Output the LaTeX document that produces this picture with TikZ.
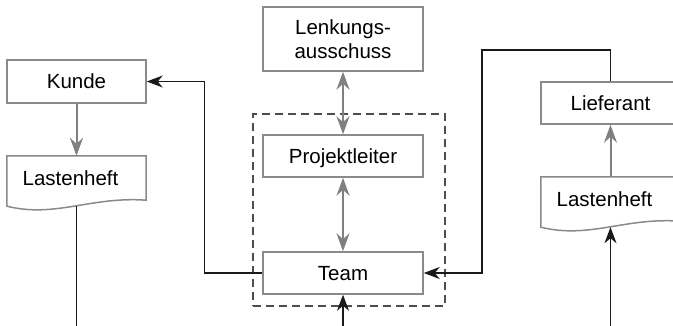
\documentclass[tikz,border=0pt]{standalone}
\usepackage{fontspec}
\setmainfont{Liberation Sans}
\usetikzlibrary{arrows.meta,calc}

\definecolor{boxgray}{HTML}{8A8A8A}
\definecolor{arrowgray}{HTML}{808080}
\definecolor{dashgray}{HTML}{4D4D4D}
\definecolor{linedark}{HTML}{1A1A1A}

\tikzset{
  lbl/.style={font=\fontsize{20.5}{24.5}\selectfont, text=black},
  box/.style={lbl, draw=boxgray, line width=1.5pt, fill=white,
    minimum width=139pt, minimum height=43pt, inner sep=0pt,
    text height=14.7pt, text depth=0pt},
  widebox/.style={box, minimum width=160pt},
  doctext/.style={lbl, minimum width=139pt, minimum height=44pt, inner sep=0pt,
    text height=14.7pt, text depth=0pt},
  docline/.style={draw=boxgray, line width=1.5pt, fill=white},
  group/.style={draw=dashgray, line width=1.6pt, dash pattern=on 8pt off 5pt,
    minimum width=192pt, minimum height=192pt, inner sep=0pt},
  conn/.style={draw=linedark, line width=1.3pt,
    -{Stealth[length=16pt,width=12pt,inset=5pt]}},
  plain/.style={draw=linedark, line width=1.3pt},
  flow/.style={draw=arrowgray, line width=2pt,
    -{Stealth[length=18pt,width=13pt,inset=6pt]}},
  both/.style={draw=arrowgray, line width=2pt,
    {Stealth[length=18pt,width=13pt,inset=6pt]}-{Stealth[length=18pt,width=13pt,inset=6pt]}},
}

\begin{document}
\begin{tikzpicture}[x=1pt,y=-1pt]
  \clip (0,0) rectangle (673,325);

  % project frame around the project leader and the team
  \node[group] (grp) at (349,210) {};

  % boxes
  \node[box] (kunde) at (76.5,81.5) {Kunde};
  \node[widebox, minimum height=64pt, align=center, text height=, text depth=]
    (lenk) at (343,39) {Lenkungs-\\ausschuss};
  \node[widebox, minimum height=42pt] (pl) at (343,156) {Projektleiter};
  \node[widebox, minimum height=42pt] (team) at (343,273) {Team};
  \node[box, minimum height=42pt] (lief) at (610.5,103) {Lieferant};

  % specification documents with a wavy lower edge
  \node[doctext] (lastL) at (76.5,178) {};
  \draw[docline] (lastL.north west) -- (lastL.north east) -- (lastL.south east)
    .. controls ($(lastL.south east)+(-55.6,-4)$) and ($(lastL.south west)+(48.7,18)$)
    .. ($(lastL.south west)+(0,6)$) -- cycle;
  \node[lbl, text height=14.7pt, text depth=0pt, inner sep=0pt] (lastLt)
    at ($(lastL)+(-6,0)$) {Lastenheft};
  \coordinate (lastLw) at ($(lastL.south)+(0,6)$);

  \node[doctext] (lastR) at (610.5,199) {};
  \draw[docline] (lastR.north west) -- (lastR.north east) -- (lastR.south east)
    .. controls ($(lastR.south east)+(-55.6,-4)$) and ($(lastR.south west)+(48.7,18)$)
    .. ($(lastR.south west)+(0,6)$) -- cycle;
  \node[lbl, text height=14.7pt, text depth=0pt, inner sep=0pt] (lastRt)
    at ($(lastR)+(-6,0)$) {Lastenheft};
  \coordinate (lastRw) at ($(lastR.south)+(0,6)$);

  % loose ends at the lower border
  \coordinate (lbot) at (76.5,330);
  \coordinate (tbot) at (343,330);
  \coordinate (rbot) at (610.5,330);

  % grey flows
  \draw[flow] (kunde.south) -- (lastL.north);
  \draw[flow] (lastR.north) -- (lief.south);
  \draw[both] (lenk.south) -- (pl.north);
  \draw[both] (pl.south) -- (team.north);

  % black connectors
  \draw[plain] (lastLw) -- (lbot);
  \draw[conn] (tbot) -- (team.south);
  \draw[conn] (rbot) -- (lastRw);
  \draw[conn] (team.west) -- ++(-58,0) |- (kunde.east);
  \draw[conn] (lief.north) |- (482,50) |- (team.east);
\end{tikzpicture}
\end{document}
